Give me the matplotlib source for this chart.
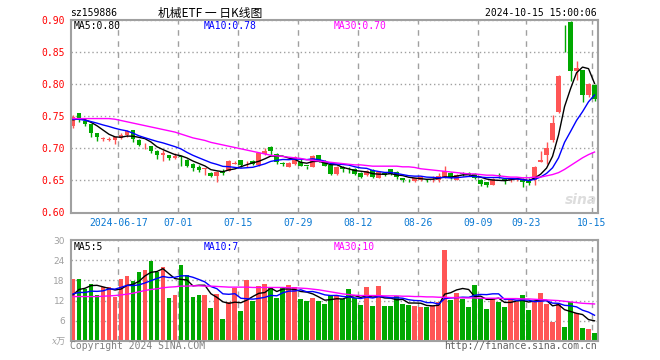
import matplotlib
matplotlib.use('Agg')
import matplotlib.pyplot as plt
import numpy as np
import pandas as pd

# trading days 2024-06-04 .. 2024-10-15 (88 sessions)
tick_labels = ['2024-06-17', '07-01', '07-15', '07-29', '08-12', '08-26', '09-09', '09-23', '10-15']
tick_index = [8, 18, 28, 38, 48, 58, 68, 76, 87]

opens = [0.734, 0.754, 0.743, 0.737, 0.724, 0.714, 0.713, 0.713, 0.716, 0.720,
         0.728, 0.713, 0.706, 0.703, 0.696, 0.689, 0.689, 0.685, 0.688, 0.682,
         0.676, 0.670, 0.667, 0.662, 0.657, 0.663, 0.665, 0.676, 0.681, 0.678,
         0.680, 0.674, 0.691, 0.702, 0.691, 0.676, 0.671, 0.675, 0.679, 0.673,
         0.671, 0.689, 0.678, 0.674, 0.660, 0.670, 0.668, 0.668, 0.662, 0.658,
         0.666, 0.654, 0.662, 0.667, 0.663, 0.653, 0.651, 0.649, 0.651, 0.651,
         0.650, 0.650, 0.655, 0.662, 0.651, 0.661, 0.662, 0.660, 0.651, 0.647,
         0.643, 0.659, 0.652, 0.650, 0.650, 0.652, 0.649, 0.650, 0.679, 0.689,
         0.713, 0.756, 0.892, 0.896, 0.820, 0.821, 0.782, 0.798]
highs = [0.752, 0.755, 0.745, 0.738, 0.724, 0.717, 0.717, 0.718, 0.724, 0.728,
         0.729, 0.714, 0.708, 0.704, 0.697, 0.697, 0.690, 0.693, 0.688, 0.683,
         0.677, 0.674, 0.669, 0.663, 0.664, 0.667, 0.681, 0.680, 0.682, 0.680,
         0.681, 0.693, 0.700, 0.703, 0.692, 0.678, 0.678, 0.688, 0.684, 0.673,
         0.689, 0.690, 0.682, 0.675, 0.672, 0.673, 0.670, 0.669, 0.663, 0.666,
         0.667, 0.664, 0.663, 0.668, 0.664, 0.653, 0.652, 0.654, 0.656, 0.652,
         0.656, 0.661, 0.672, 0.663, 0.660, 0.663, 0.663, 0.661, 0.652, 0.648,
         0.653, 0.662, 0.653, 0.654, 0.653, 0.653, 0.653, 0.672, 0.695, 0.710,
         0.751, 0.813, 0.892, 0.897, 0.835, 0.822, 0.802, 0.799]
lows = [0.732, 0.741, 0.735, 0.718, 0.711, 0.711, 0.711, 0.707, 0.714, 0.717,
        0.710, 0.703, 0.698, 0.692, 0.683, 0.680, 0.682, 0.683, 0.672, 0.670,
        0.665, 0.663, 0.658, 0.655, 0.648, 0.658, 0.665, 0.675, 0.671, 0.671,
        0.674, 0.672, 0.689, 0.689, 0.676, 0.673, 0.670, 0.674, 0.672, 0.668,
        0.670, 0.678, 0.672, 0.659, 0.659, 0.663, 0.661, 0.658, 0.654, 0.657,
        0.654, 0.653, 0.657, 0.659, 0.652, 0.648, 0.647, 0.647, 0.649, 0.647,
        0.648, 0.648, 0.654, 0.652, 0.650, 0.657, 0.657, 0.652, 0.641, 0.640,
        0.642, 0.654, 0.645, 0.647, 0.649, 0.640, 0.643, 0.643, 0.678, 0.676,
        0.710, 0.754, 0.850, 0.805, 0.806, 0.772, 0.780, 0.774]
closes = [0.749, 0.747, 0.737, 0.724, 0.717, 0.716, 0.714, 0.717, 0.721, 0.726,
          0.715, 0.705, 0.707, 0.695, 0.689, 0.693, 0.685, 0.688, 0.686, 0.672,
          0.669, 0.666, 0.669, 0.657, 0.663, 0.662, 0.680, 0.677, 0.674, 0.679,
          0.676, 0.692, 0.696, 0.696, 0.679, 0.675, 0.677, 0.686, 0.673, 0.672,
          0.688, 0.679, 0.673, 0.660, 0.671, 0.668, 0.667, 0.660, 0.655, 0.665,
          0.655, 0.663, 0.659, 0.660, 0.655, 0.650, 0.650, 0.653, 0.655, 0.650,
          0.651, 0.657, 0.664, 0.653, 0.658, 0.660, 0.659, 0.653, 0.645, 0.643,
          0.652, 0.657, 0.650, 0.652, 0.652, 0.647, 0.646, 0.671, 0.681, 0.700,
          0.739, 0.812, 0.891, 0.820, 0.824, 0.783, 0.800, 0.776]
prev_close = [0.748, 0.752, 0.745, 0.741, 0.744, 0.738, 0.745, 0.744, 0.744]
ma30_price = [0.746, 0.746, 0.746, 0.746, 0.746, 0.746, 0.746, 0.745, 0.743, 0.741,
              0.739, 0.737, 0.735, 0.733, 0.731, 0.729, 0.727, 0.725, 0.722, 0.719,
              0.716, 0.714, 0.712, 0.709, 0.707, 0.705, 0.703, 0.701, 0.699, 0.697,
              0.695, 0.693, 0.691, 0.689, 0.688, 0.687, 0.686, 0.685, 0.684, 0.682,
              0.681, 0.680, 0.679, 0.678, 0.677, 0.676, 0.675, 0.674, 0.674, 0.673,
              0.672, 0.672, 0.672, 0.672, 0.672, 0.671, 0.671, 0.670, 0.668, 0.667,
              0.666, 0.665, 0.664, 0.663, 0.662, 0.661, 0.660, 0.660, 0.659, 0.658,
              0.658, 0.657, 0.656, 0.655, 0.655, 0.654, 0.654, 0.655, 0.655, 0.657,
              0.659, 0.662, 0.667, 0.673, 0.679, 0.685, 0.690, 0.694]

volumes = [18.3, 18.3, 15.3, 17.0, 13.8, 16.0, 16.0, 13.0, 18.3, 19.2,
           17.7, 20.4, 21.0, 23.7, 20.4, 21.9, 12.9, 13.8, 22.5, 19.5,
           13.2, 13.8, 13.8, 9.9, 14.1, 6.6, 11.5, 15.6, 9.0, 18.0,
           12.0, 16.2, 16.8, 15.6, 12.9, 15.6, 16.5, 15.9, 12.6, 12.0,
           12.9, 12.0, 11.1, 13.5, 13.3, 12.5, 15.3, 12.8, 10.8, 15.9,
           10.5, 16.2, 10.5, 10.5, 13.5, 11.1, 10.8, 10.5, 10.2, 10.2,
           10.5, 11.7, 27.0, 12.3, 14.4, 12.6, 10.2, 16.5, 12.9, 9.6,
           12.9, 11.7, 10.2, 12.9, 11.7, 13.8, 9.3, 11.7, 14.4, 11.1,
           5.7, 11.1, 4.2, 11.7, 8.4, 3.9, 3.6, 2.4]
prev_vol = [14.0, 15.5, 13.0, 14.5, 14.5, 10.3, 13.5, 13.0, 13.4]
ma30_vol = [13.2, 13.2, 13.2, 13.2, 13.2, 13.3, 13.4, 13.5, 13.7, 13.9,
            14.2, 14.6, 15.0, 15.3, 15.5, 15.8, 16.0, 16.1, 16.3, 16.3,
            16.4, 16.4, 16.3, 16.3, 16.2, 16.1, 16.0, 16.0, 16.0, 16.0,
            15.9, 15.9, 15.9, 15.9, 15.9, 15.9, 15.8, 15.8, 15.7, 15.6,
            15.4, 15.2, 14.9, 14.6, 14.3, 14.0, 13.8, 13.6, 13.5, 13.5,
            13.5, 13.5, 13.4, 13.4, 13.4, 13.3, 13.3, 13.2, 13.2, 13.1,
            13.1, 13.0, 13.0, 12.9, 12.9, 12.8, 12.8, 12.8, 12.7, 12.7,
            12.7, 12.7, 12.6, 12.6, 12.6, 12.5, 12.5, 12.4, 12.3, 12.2,
            12.1, 12.0, 11.8, 11.6, 11.4, 11.2, 11.1, 11.0]

RED = '#ff5555'
GREEN = '#00a800'
FRAME = '#a0a0a0'
MONO = 'DejaVu Sans Mono'
W, H = 660, 360


def box(l, t, r, b):
    return [l / W, 1 - b / H, (r - l) / W, (b - t) / H]


def ma(prev, vals, n):
    s = pd.Series(prev + vals)
    return s.rolling(n).mean().values[len(prev):]


fig = plt.figure(figsize=(6.6, 3.6), dpi=100)
ax = fig.add_axes(box(70.5, 19.5, 598, 212.5))
axv = fig.add_axes(box(70.5, 240, 598, 341))

x = np.arange(len(closes)) + 0.42
o, h, l, c = map(np.array, (opens, highs, lows, closes))
cols = np.where(c >= o, RED, GREEN)

# candles
ax.vlines(x, l, h, colors=cols, lw=1, zorder=3)
ax.bar(x, np.maximum(np.abs(c - o), 0.0012), bottom=np.minimum(o, c),
       width=0.8, color=cols, lw=0, zorder=3)
ax.plot(x, ma(prev_close, closes, 5), color='black', lw=1, zorder=4)
ax.plot(x, ma(prev_close, closes, 10), color='#0000ff', lw=1, zorder=4)
ax.plot(x, ma30_price, color='#ff00ff', lw=1, zorder=4)

# volume
axv.bar(x, volumes, width=0.8, color=cols, lw=0, zorder=3)
axv.plot(x, ma(prev_vol, volumes, 5), color='black', lw=1, zorder=4)
axv.plot(x, ma(prev_vol, volumes, 10), color='#0000ff', lw=1, zorder=4)
axv.plot(x, ma30_vol, color='#ff00ff', lw=1, zorder=4)

for a in (ax, axv):
    a.set_xlim(0, len(closes))
    a.set_xticks(tick_index)
    for sp in a.spines.values():
        sp.set_color(FRAME)
        sp.set_linewidth(1.5)
        sp.set_zorder(6)
    a.tick_params(length=0)
    a.set_axisbelow(True)
    a.xaxis.grid(True, color=FRAME, lw=1, linestyle=(0, (4, 4)))
    a.yaxis.grid(True, color=FRAME, lw=1, linestyle=(0, (1, 2)))

ax.set_ylim(0.60, 0.90)
ax.set_yticks(np.arange(0.60, 0.901, 0.05))
ax.set_yticklabels(['%.2f' % v for v in np.arange(0.60, 0.901, 0.05)],
                   color='#ff0000', family=MONO, fontsize=7)
ax.set_xticklabels(tick_labels, color='#0a78d2', family=MONO, fontsize=7)
ax.tick_params(axis='y', pad=4)
ax.tick_params(axis='x', pad=4)

axv.set_ylim(0, 30)
axv.set_yticks([6, 12, 18, 24, 30])
axv.set_yticklabels(['6', '12', '18', '24', '30'], color=FRAME, fontsize=6.5)
axv.tick_params(axis='y', pad=4)
axv.set_xticklabels([])


def ftext(px, py, s, **kw):
    fig.text(px / W, 1 - py / H, s, va='center', **kw)


ftext(66, 342, 'x万', ha='right', color=FRAME, fontsize=6.5, family=['DejaVu Serif', 'Noto Sans CJK SC'], style='italic')
ftext(70, 13, 'sz159886', family=MONO, fontsize=7)
ftext(210, 13, '机械ETF 一 日K线图', ha='center', family=['Noto Sans CJK SC'], fontsize=8.5)
ftext(597, 13, '2024-10-15 15:00:06', ha='right', family=MONO, fontsize=7)

ftext(74, 26, 'MA5:0.80', family=MONO, fontsize=7, color='black')
ftext(204, 26, 'MA10:0.78', family=MONO, fontsize=7, color='#0000ff')
ftext(334, 26, 'MA30:0.70', family=MONO, fontsize=7, color='#ff00ff')
ftext(74, 247, 'MA5:5', family=MONO, fontsize=7, color='black')
ftext(204, 247, 'MA10:7', family=MONO, fontsize=7, color='#0000ff')
ftext(334, 247, 'MA30:10', family=MONO, fontsize=7, color='#ff00ff')

ftext(581, 200, 'sina', ha='center', fontsize=10, color='#dddddd', style='italic', weight='bold')
ftext(70, 346, 'Copyright 2024 SINA.COM', family=MONO, fontsize=7, color='#808080')
ftext(597, 346, 'http://finance.sina.com.cn', ha='right', family=MONO, fontsize=7, color='#606060')

fig.savefig('out.png', dpi=100)
